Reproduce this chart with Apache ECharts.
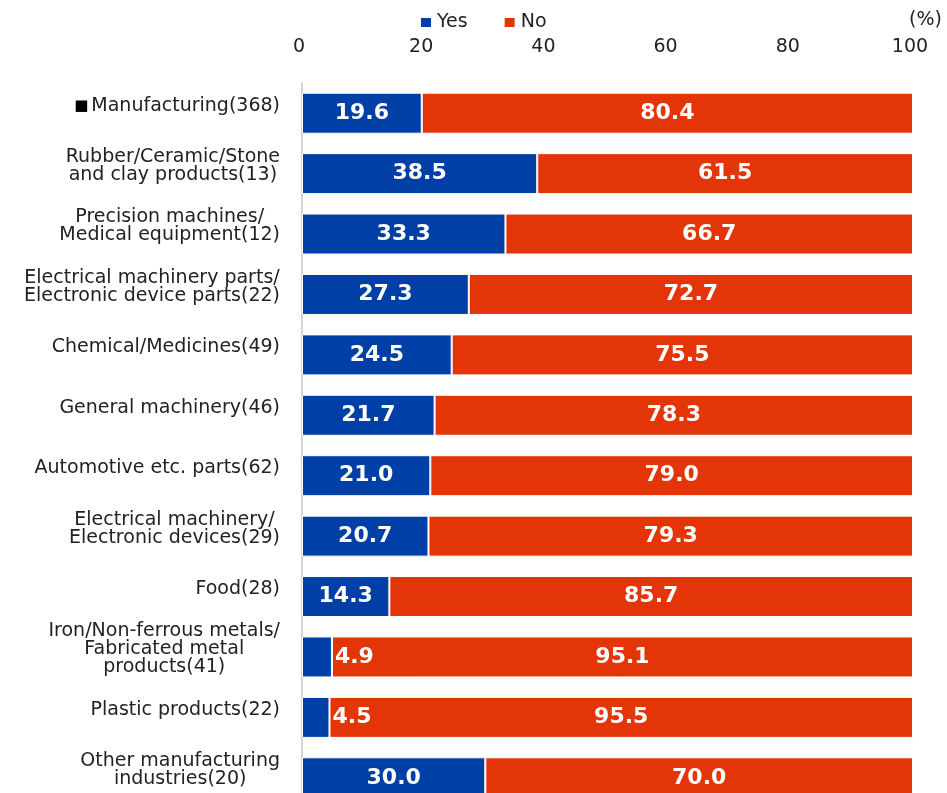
<!DOCTYPE html>
<html>
<head>
<meta charset="utf-8">
<script src="https://cdn.jsdelivr.net/npm/echarts@6/dist/echarts.min.js"></script>
<style>
  html, body { margin: 0; padding: 0; background: #fff; overflow: hidden; }
  /* the last row runs a little past the bottom edge of the window */
  #chart { width: 947px; height: 808px; }
</style>
</head>
<body>
<div id="chart"></div>
<script>
// Industry categories (top to bottom), with respondent counts
const categories = [
  '■Manufacturing(368)',
  'Rubber/Ceramic/Stone\nand clay products(13)',
  'Precision machines/\nMedical equipment(12)',
  'Electrical machinery parts/\nElectronic device parts(22)',
  'Chemical/Medicines(49)',
  'General machinery(46)',
  'Automotive etc. parts(62)',
  'Electrical machinery/\nElectronic devices(29)',
  'Food(28)',
  'Iron/Non-ferrous metals/\nFabricated metal\nproducts(41)',
  'Plastic products(22)',
  'Other manufacturing\nindustries(20)'
];
const yesValues = [19.6, 38.5, 33.3, 27.3, 24.5, 21.7, 21.0, 20.7, 14.3, 4.9, 4.5, 30.0];
const noValues  = [80.4, 61.5, 66.7, 72.7, 75.5, 78.3, 79.0, 79.3, 85.7, 95.1, 95.5, 70.0];
const xTicks = [0, 20, 40, 60, 80, 100];

const FONT = 'DejaVu Sans';
const BLUE = '#0040A6';
const RED = '#E33508';
const TEXT = '#222';

const chart = echarts.init(document.getElementById('chart'), null, { renderer: 'canvas' });

// Narrow "Yes" segments get their label pushed just outside, onto the red segment
const yesData = yesValues.map(v => ({
  value: v,
  label: v < 10 ? { position: 'right', distance: 3 } : {}
}));

const valueLabel = {
  show: true,
  position: 'inside',
  color: '#fff',
  fontFamily: FONT,
  fontWeight: 'bold',
  fontSize: 22,
  formatter: p => p.value.toFixed(1)
};

// Each line of a category label is centred within its block; a leading
// square marker is drawn a bit smaller than the text
function categoryLabel(v) {
  return v.split('\n').map(line => {
    if (line.startsWith('■')) {
      return '{s|■}{c|' + line.slice(1) + '}';
    }
    return '{c|' + line + '}';
  }).join('\n');
}

chart.setOption({
  animation: false,
  backgroundColor: '#fff',
  legend: {
    data: ['Yes', 'No'],
    left: 414,
    top: 8,
    itemWidth: 12,
    itemHeight: 11,
    itemGap: 35,
    icon: 'rect',
    textStyle: { fontFamily: FONT, fontSize: 19, color: TEXT }
  },
  graphic: [{
    type: 'text',
    right: 5,
    top: 11,
    style: { text: '(%)', font: '19px "' + FONT + '"', fill: TEXT }
  }],
  grid: { left: 302, right: 34, top: 83, bottom: 0, containLabel: false },
  xAxis: {
    type: 'value',
    position: 'top',
    min: xTicks[0],
    max: xTicks[xTicks.length - 1],
    interval: xTicks[1] - xTicks[0],
    axisLine: { show: false },
    axisTick: { show: false },
    splitLine: { show: false },
    axisLabel: { fontFamily: FONT, fontSize: 19, color: TEXT, margin: 26, padding: [0, 6, 0, 0] }
  },
  yAxis: {
    type: 'category',
    inverse: true,
    data: categories,
    axisLine: { show: true, lineStyle: { color: '#d4d4d4', width: 2 } },
    axisTick: { show: false },
    axisLabel: {
      margin: 22,
      padding: [0, 0, 15, 0],
      formatter: categoryLabel,
      rich: {
        c: { align: 'center', fontFamily: FONT, fontSize: 19, lineHeight: 18, color: TEXT },
        s: { align: 'center', fontFamily: FONT, fontSize: 15, lineHeight: 18, color: '#000', padding: [0, 3, 0, 0] }
      }
    }
  },
  series: [
    {
      name: 'Yes',
      type: 'bar',
      stack: 'total',
      barWidth: 41,
      data: yesData,
      itemStyle: { color: BLUE, borderColor: '#fff', borderWidth: 1 },
      label: valueLabel
    },
    {
      name: 'No',
      type: 'bar',
      stack: 'total',
      barWidth: 41,
      data: noValues,
      itemStyle: { color: RED, borderColor: '#fff', borderWidth: 1 },
      label: valueLabel
    }
  ]
});
</script>
</body>
</html>
